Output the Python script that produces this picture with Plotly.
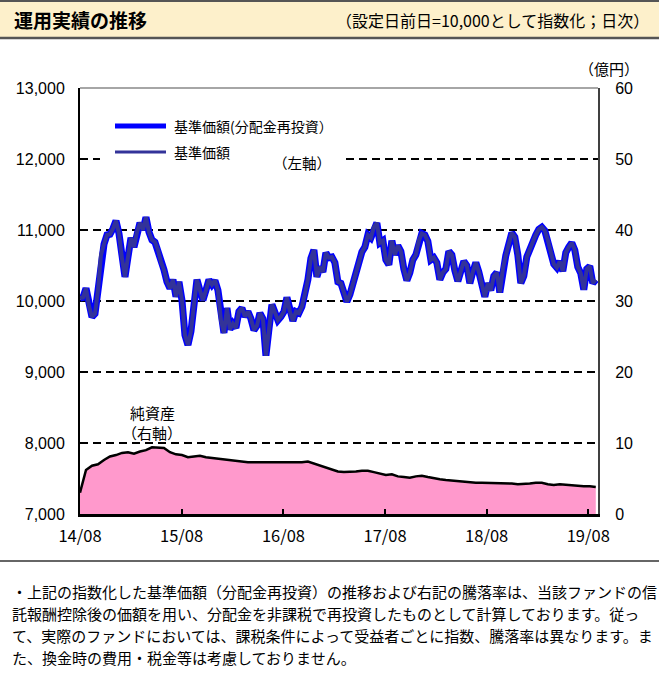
import plotly.graph_objects as go
import pandas as pd

# ---------------- data ----------------
start_date = "2014-08-01"
end_date = "2019-08-28"

# 基準価額（分配金再投資） index
nav = [
    10040, 10050, 10180, 9930, 9775, 9820, 10150, 10650, 10800, 10930,
    10940, 11020, 11130, 10950, 10600, 10340, 10620, 10890, 10760, 10970,
    11100, 11000, 11180, 10970, 10860, 10830, 10720, 10550, 10440, 10270,
    10180, 10300, 10060, 10270, 10010, 9520, 9380, 9570, 9950, 10300,
    10150, 10010, 10150, 10300, 10230, 10290, 10150, 9730, 9550, 9900,
    9600, 9680, 9620, 9850, 9900, 9780, 9850, 9750, 9590, 9650,
    9830, 9750, 9230, 9600, 9950, 9840, 9730, 9780, 9850, 10050,
    9850, 9720, 9850, 9830, 9920, 10100, 10300, 10600, 10720, 10340,
    10480, 10410, 10680, 10610, 10620, 10540, 10270, 10250, 10130, 9990,
    10090, 10250, 10370, 10540, 10690, 10760, 10930, 10890, 11040, 11100,
    10820, 10850, 10580, 10510, 10850, 10650, 10780, 10700, 10450, 10290,
    10400, 10580, 10650, 10850, 10950, 10930, 10840, 10580, 10610, 10540,
    10300, 10400, 10450, 10700, 10650, 10430, 10280, 10420, 10560, 10500,
    10250, 10410, 10540, 10410, 10200, 10060, 10250, 10150, 10350, 10400,
    10120, 10450, 10640, 10800, 10960, 10900, 10650, 10250, 10350, 10620,
    10740, 10830, 10930, 11010, 11040, 10990, 10860, 10680, 10520, 10470,
    10560, 10420, 10680, 10760, 10820, 10720, 10480, 10390, 10160, 10450,
    10490, 10250, 10300,
]

# 純資産（億円）, right axis
net_assets = [
    3.0, 6.2, 6.8, 7.0, 7.6, 8.1, 8.3, 8.6, 8.7, 8.5,
    8.8, 9.0, 9.4, 9.3, 9.3, 8.7, 8.4, 8.3, 8.0, 8.1,
    8.2, 8.0, 7.9, 7.8, 7.6, 7.5, 7.4, 7.3, 7.3, 7.3,
    7.3, 7.2, 7.3, 7.3, 7.2, 7.2, 7.2, 7.3, 7.4, 7.1,
    6.9, 6.6, 6.3, 6.0, 5.9, 5.9, 6.0, 6.1, 6.1, 5.9,
    5.7, 5.5, 5.6, 5.3, 5.2, 5.1, 5.3, 5.4, 5.2, 5.0,
    4.9, 4.8, 4.7, 4.6, 4.5, 4.5, 4.4, 4.4, 4.4, 4.3,
    4.4, 4.4, 4.3, 4.2, 4.2, 4.3, 4.4, 4.4, 4.2, 4.1,
    4.2, 4.1, 4.0, 3.9, 3.9, 3.9, 3.8,
]

x_tick_dates = ["2014-08-01", "2015-08-01", "2016-08-01",
                "2017-08-01", "2018-08-01", "2019-08-01"]
x_tick_labels = ["14/08", "15/08", "16/08", "17/08", "18/08", "19/08"]
left_ticks = [7000, 8000, 9000, 10000, 11000, 12000, 13000]
right_ticks = [0, 10, 20, 30, 40, 50, 60]

nav_dates = pd.date_range(start_date, end_date, periods=len(nav))
na_dates = pd.date_range(start_date, end_date, periods=len(net_assets))

note_lines = [
    "・上記の指数化した基準価額（分配金再投資）の推移および右記の騰落率は、当該ファンドの信",
    "託報酬控除後の価額を用い、分配金を非課税で再投資したものとして計算しております。従っ",
    "て、実際のファンドにおいては、課税条件によって受益者ごとに指数、騰落率は異なります。ま",
    "た、換金時の費用・税金等は考慮しておりません。",
]

# ---------------- layout geometry ----------------
W, H = 659, 675
L, R, T, B = 80, 598, 88, 514
JP = "Noto Sans CJK JP"
NUM = "Liberation Sans, Arial"


def fx(p):
    return (p - L) / (R - L)


def fy(p):
    return (B - p) / (B - T)


fig = go.Figure()

fig.add_trace(go.Scatter(
    x=na_dates, y=net_assets, yaxis="y2", mode="lines",
    line=dict(color="#000000", width=2.5), fill="tozeroy",
    fillcolor="#FF99CC", hoverinfo="skip", showlegend=False))
fig.add_trace(go.Scatter(
    x=nav_dates, y=nav, mode="lines",
    line=dict(color="#0000FF", width=7), hoverinfo="skip", showlegend=False))
fig.add_trace(go.Scatter(
    x=nav_dates, y=nav, mode="lines",
    line=dict(color="#333399", width=4), hoverinfo="skip", showlegend=False))

shapes = []
# header band
shapes.append(dict(type="rect", xref="paper", yref="paper", x0=fx(0), x1=fx(W),
                   y0=fy(38), y1=fy(1), fillcolor="#FDF0CB", line=dict(width=0), layer="below"))
shapes.append(dict(type="line", xref="paper", yref="paper", x0=fx(0), x1=fx(W),
                   y0=fy(1), y1=fy(1), line=dict(color="#555555", width=2)))
shapes.append(dict(type="line", xref="paper", yref="paper", x0=fx(0), x1=fx(W),
                   y0=fy(38), y1=fy(38), line=dict(color="#555555", width=2.5)))
# rule above note
shapes.append(dict(type="line", xref="paper", yref="paper", x0=fx(0), x1=fx(W),
                   y0=fy(561), y1=fy(561), line=dict(color="#666666", width=2)))
# dashed grid lines
for v in left_ticks[1:-1]:
    if v == 12000:
        segs = [(0, fx(100)), (fx(346), 1)]
    else:
        segs = [(0, 1)]
    for a, b in segs:
        shapes.append(dict(type="line", xref="paper", yref="y", x0=a, x1=b, y0=v, y1=v,
                           line=dict(color="#000000", width=2, dash="8px,5px"), layer="below"))
# top border (gray)
shapes.append(dict(type="line", xref="paper", yref="paper", x0=0, x1=1, y0=1, y1=1,
                   line=dict(color="#A6A6A6", width=2)))
# legend lines
shapes.append(dict(type="line", xref="paper", yref="paper", x0=fx(115), x1=fx(166),
                   y0=fy(126), y1=fy(126), line=dict(color="#0000FF", width=5)))
shapes.append(dict(type="line", xref="paper", yref="paper", x0=fx(115), x1=fx(166),
                   y0=fy(152), y1=fy(152), line=dict(color="#333399", width=3)))

ann = []


def text(x, y, s, size=15, xanchor="left", yanchor="middle", family=JP):
    ann.append(dict(xref="paper", yref="paper", x=fx(x), y=fy(y), text=s, showarrow=False,
                    xanchor=xanchor, yanchor=yanchor,
                    font=dict(family=family, size=size, color="#000000")))


text(12, 19, "<b>運用実績の推移</b>", size=19)
text(651, 20, "（設定日前日=10,000として指数化；日次）", size=16, xanchor="right")
text(641, 68, "（億円）", size=15, xanchor="right")
text(172, 126, "基準価額(分配金再投資）", size=14)
text(172, 152, "基準価額", size=14)
text(333, 162, "（左軸）", size=14.5, xanchor="right")
text(152, 412, "純資産", size=15, xanchor="center")
text(152, 432, "（右軸）", size=15, xanchor="center")
for i, line in enumerate(note_lines):
    text(10, 591 + i * 22, line, size=15)

fig.update_layout(
    width=W, height=H,
    margin=dict(l=L, r=W - R, t=T, b=H - B, pad=0),
    paper_bgcolor="#FFFFFF", plot_bgcolor="#FFFFFF",
    showlegend=False,
    shapes=shapes, annotations=ann,
    xaxis=dict(type="date", range=["2014-08-01", "2019-09-05"],
               tickvals=x_tick_dates, ticktext=x_tick_labels,
               ticks="inside", ticklen=5, tickwidth=1.5, tickcolor="#000000",
               showline=True, linecolor="#000000", linewidth=3,
               showgrid=False, zeroline=False, ticklabelstandoff=5,
               tickfont=dict(family=JP, size=16.5, color="#000000")),
    yaxis=dict(range=[7000, 13000], tickvals=left_ticks,
               ticktext=[f"{v:,}" for v in left_ticks],
               showgrid=False, zeroline=False, ticks="",
               showline=True, linecolor="#000000", linewidth=2,
               ticklabelstandoff=10,
               tickfont=dict(family=NUM, size=16, color="#000000")),
    yaxis2=dict(range=[0, 60], tickvals=right_ticks, overlaying="y", side="right",
                showgrid=False, zeroline=False, ticks="",
                showline=True, linecolor="#404040", linewidth=2,
                ticklabelstandoff=12,
                tickfont=dict(family=NUM, size=16, color="#000000")),
)

fig.write_html("out.html")
